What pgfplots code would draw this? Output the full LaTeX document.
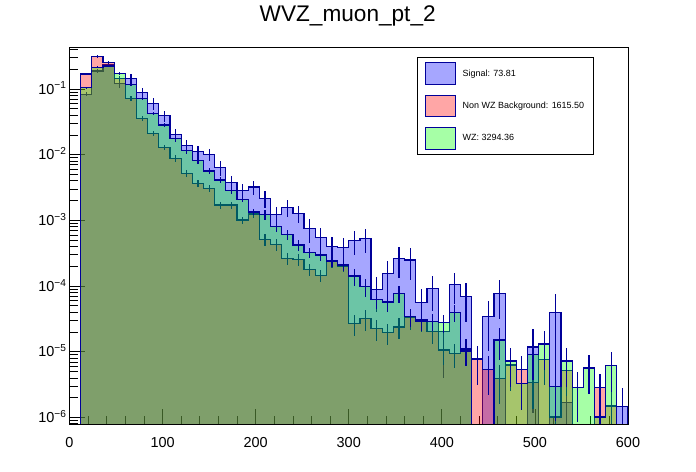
\documentclass[border=0pt]{standalone}
\usepackage{pgfplots}
\usepackage{pgfplotstable}
\pgfplotsset{compat=1.18}
\usepackage{fontspec}
\setmainfont{Liberation Sans}
\definecolor{navy}{RGB}{0,0,153}

\pgfplotstableread{
x xc y e
12 -50 1e-9 0
12 18 0.0830 0.07
24 30 0.188 0.07
36 42 0.2318 0.07
48 54 0.1221 0.15
60 66 0.1455 0.15
72 78 0.0891 0.15
84 90 0.0606 0.2
96 102 0.0392 0.2
108 114 0.02044 0.2
120 126 0.0139 0.2
132 138 0.01126 0.2
144 150 0.01014 0.2
156 162 0.00643 0.25
168 174 0.00375 0.25
180 186 0.00287 0.25
192 198 0.00322 0.25
204 210 0.00217 0.3
216 222 0.001238 0.3
228 234 0.001583 0.3
240 246 0.001282 0.3
252 258 0.000758 0.4
264 270 0.000553 0.4
276 282 0.000398 0.4
288 294 0.000390 0.4
300 306 0.000491 0.4
312 318 0.000534 0.4
324 330 8.94e-5 0.55
336 342 1.566e-4 0.55
348 354 2.65e-4 0.5
360 366 2.50e-4 0.5
372 378 5.67e-5 0.6
384 390 9.26e-5 0.55
396 402 2.02e-5 0.8
408 414 1.065e-4 0.5
420 426 6.99e-5 0.6
432 438 1e-8 0
444 450 3.47e-5 0.7
456 462 7.77e-5 0.6
468 474 1e-8 0
480 486 1e-8 0
492 498 1.179e-5 0.9
504 510 1e-8 0
516 522 4.01e-5 0.9
528 534 1.68e-6 0.9
540 546 1e-8 0
552 558 1e-8 0
564 570 1e-8 0
576 582 1e-8 0
588 594 1.455e-6 0.9
600 650 1.455e-6 0
600 650 1e-9 0
}\tabS

\pgfplotstableread{
x xc y e
12 -50 1e-9 0
12 18 0.1692 0.05
24 30 0.310 0.05
36 42 0.2549 0.05
48 54 0.1455 0.08
60 66 0.0722 0.08
72 78 0.0358 0.08
84 90 0.02117 0.08
96 102 0.01296 0.08
108 114 0.00882 0.12
120 126 0.00521 0.12
132 138 0.00367 0.12
144 150 0.00308 0.12
156 162 0.001715 0.12
168 174 0.001715 0.12
180 186 0.001014 0.12
192 198 0.001251 0.12
204 210 0.000516 0.2
216 222 0.000433 0.2
228 234 0.000265 0.2
240 246 0.000256 0.2
252 258 0.00018 0.2
264 270 0.000144 0.2
276 282 0.000237 0.2
288 294 0.000202 0.2
300 306 2.72e-5 0.35
312 318 3.24e-5 0.35
324 330 2.28e-5 0.35
336 342 1.953e-5 0.35
348 354 2.385e-5 0.35
360 366 3.33e-5 0.35
372 378 3.12e-5 0.35
384 390 2.04e-5 0.35
396 402 1.065e-5 0.4
408 414 9.49e-6 0.4
420 426 1.103e-5 0.4
432 438 7.77e-6 0.6
444 450 5.42e-6 0.6
456 462 3.95e-6 0.6
468 474 6.30e-6 0.6
480 486 5.43e-6 0.6
492 498 3.42e-6 0.6
504 510 7.69e-6 0.6
516 522 1.018e-6 0.8
528 534 5.25e-6 0.6
540 546 1e-8 0
552 558 1e-8 0
564 570 2.83e-6 0.6
576 582 1.496e-6 0.7
588 594 1e-8 0
600 650 1e-8 0
600 650 1e-9 0
}\tabB

\pgfplotstableread{
x xc y e
12 -50 1e-9 0
12 18 0.1047 0.04
24 30 0.2139 0.04
36 42 0.2239 0.04
48 54 0.1734 0.06
60 66 0.1179 0.06
72 78 0.0722 0.06
84 90 0.0427 0.06
96 102 0.0283 0.06
108 114 0.01752 0.1
120 126 0.0115 0.1
132 138 0.00811 0.1
144 150 0.00565 0.1
156 162 0.00412 0.1
168 174 0.00283 0.1
180 186 0.002095 0.1
192 198 0.001342 0.1
204 210 0.001238 0.18
216 222 0.000802 0.18
228 234 0.000614 0.18
240 246 0.000422 0.18
252 258 0.000327 0.18
264 270 0.000297 0.18
276 282 0.000241 0.18
288 294 0.0002095 0.18
300 306 0.0001424 0.3
312 318 9.79e-5 0.3
324 330 6.30e-5 0.3
336 342 5.73e-5 0.3
348 354 7.77e-5 0.3
360 366 3.42e-5 0.3
372 378 2.94e-5 0.3
384 390 2.91e-5 0.3
396 402 2.77e-5 0.3
408 414 3.99e-5 0.3
420 426 1.03e-5 0.4
432 438 1e-8 0
444 450 1e-8 0
456 462 1.512e-5 0.5
468 474 7.24e-6 0.6
480 486 3.27e-6 0.6
492 498 9.19e-6 0.6
504 510 1.315e-5 0.6
516 522 2.93e-6 0.7
528 534 7.24e-6 0.6
540 546 2.86e-6 0.7
552 558 5.67e-6 0.6
564 570 1.018e-6 0.8
576 582 6.19e-6 0.6
588 594 1e-8 0
600 650 1e-8 0
600 650 1e-9 0
}\tabW

\begin{document}
\begin{tikzpicture}
\useasboundingbox (0,0) rectangle (696bp,472bp);
\node[anchor=base, inner sep=0pt, font=\fontsize{22.7}{26}\selectfont] at (347.7bp,450.3bp) {WVZ\_muon\_pt\_2};
\begin{axis}[
  at={(69.5bp,48bp)}, anchor=south west,
  scale only axis, width=558.5bp, height=377bp,
  xmin=0, xmax=600, ymode=log, log basis y=10,
  ymin=7.96e-7, ymax=0.4357,
  xtick={0,100,...,600}, minor x tick num=4,
  xtick pos=bottom, ytick pos=left,
  tick align=inside,
  major tick length=15bp, minor tick length=8bp,
  tick style={black, line width=0.8bp},
  axis line style={black, line width=1bp},
  ticklabel style={font=\fontsize{14.5}{16}\selectfont},
  /pgf/number format/assume math mode=true,
  xticklabel style={inner sep=0pt, anchor=north, yshift=-13.7bp},
  yticklabel={10\textsuperscript{−\pgfmathparse{int(-\tick)}\pgfmathresult}},
  yticklabel style={inner sep=0pt, anchor=base east, xshift=-2.8bp, yshift=-5.2bp},
  legend image code/.code={\draw[#1] (0bp,-10.8bp) rectangle (30.3bp,10.8bp); \path (37bp,0bp);},
  legend style={at={(0.6217,0.9743)}, anchor=north west, draw=black, line width=1bp, fill=white,
    inner xsep=7.3bp, inner ysep=5bp, row sep=9.7bp, font=\fontsize{9}{10}\selectfont,
    nodes={inner sep=0pt}},
  legend cell align=left,
  errs/.style={forget plot, draw=none, mark=none,
    error bars/.cd, y dir=both, y explicit relative, error mark=none,
    error bar style={draw=navy, line width=1.2bp}},
]
\addplot[const plot, fill=blue, fill opacity=0.35, draw=navy, line width=1.2bp] table[x=x,y=y] {\tabS};
\addlegendentry{\makebox[123.4bp][l]{Signal: 73.81}}
\addplot[errs] table[x=xc,y=y,y error=e] {\tabS};
\addplot[const plot, fill=red, fill opacity=0.35, draw=navy, line width=1.2bp] table[x=x,y=y] {\tabB};
\addlegendentry{\makebox[123.4bp][l]{Non WZ Background: 1615.50}}
\addplot[errs] table[x=xc,y=y,y error=e] {\tabB};
\addplot[const plot, fill=green, fill opacity=0.35, draw=navy, line width=1.2bp] table[x=x,y=y] {\tabW};
\addlegendentry{\makebox[123.4bp][l]{WZ: 3294.36}}
\addplot[errs] table[x=xc,y=y,y error=e] {\tabW};
\draw[black, line width=1bp] (rel axis cs:0,0) rectangle (rel axis cs:1,1);
\end{axis}
\end{tikzpicture}
\end{document}
